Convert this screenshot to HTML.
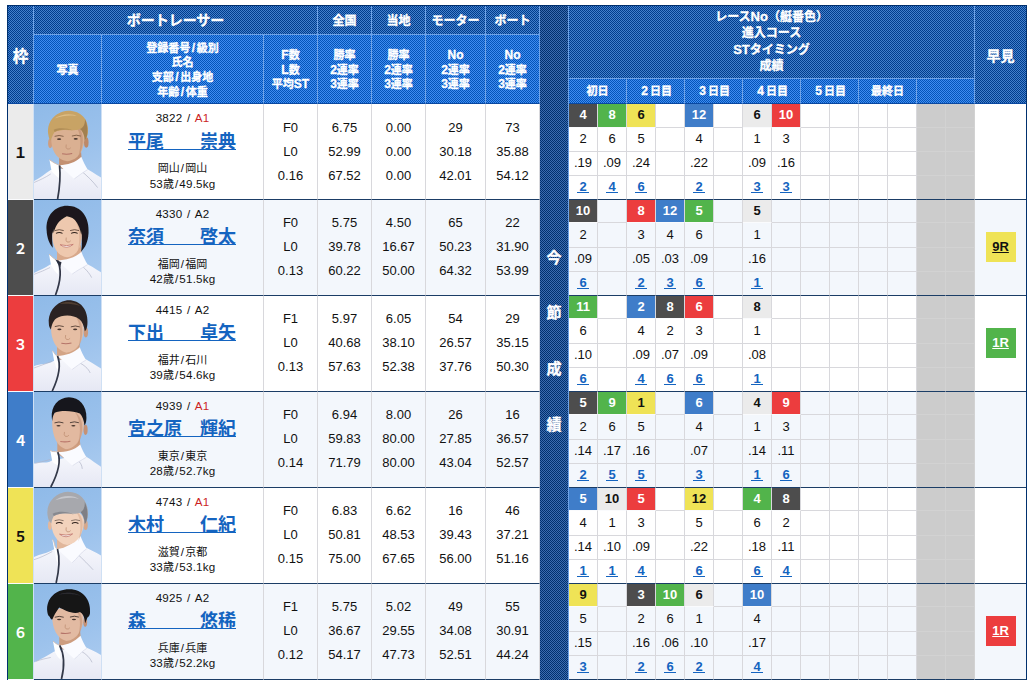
<!DOCTYPE html>
<html lang="ja"><head><meta charset="utf-8"><title>出走表</title>
<style>
html,body{margin:0;padding:0;background:#fff}
body{width:1035px;height:687px;overflow:hidden;position:relative;font-family:"Liberation Sans","Noto Sans CJK JP",sans-serif;color:#111}
.jt{white-space:nowrap}
.jb{font-weight:bold}
.f11{font-size:11px}.f12{font-size:12px}.f14{font-size:14px}.f15{font-size:15px}.f155{font-size:15.5px}
th{-webkit-text-stroke:.35px #fff}
a{color:inherit;text-decoration:none}
table.tb{position:absolute;left:7px;top:5px;width:1020px;border-collapse:separate;border-spacing:0;table-layout:fixed;border:1px solid #00306e;border-bottom:0}
th,td{padding:0;margin:0;text-align:center;vertical-align:middle;font-weight:normal;overflow:hidden;box-sizing:border-box}
tr.ha{height:29px} tr.hb{height:44px} tr.hc{height:25px}
tr.r0,tr.r1,tr.r2,tr.r3{height:24px}
td.rc,td.crs,td.st2,td.res,td.rs{height:24px;line-height:21px;vertical-align:top}
th{color:#fff;font-weight:bold;border-right:1px solid #6ea2e6;border-bottom:1px solid #6ea2e6}
th.dk{background:repeating-conic-gradient(#4380cc 0 25%,#003c8c 0 50%) 0 0/2px 2px}
th.lt{background:repeating-conic-gradient(#3f8cf0 0 25%,#0454b8 0 50%) 0 0/2px 2px;border-bottom-color:#0a48a0;font-size:12px;line-height:14.65px;padding-top:2px}
th.kon{background:repeating-conic-gradient(#3c6cb0 0 25%,#00306e 0 50%) 0 0/2px 2px;border-bottom:0;line-height:55.7px;padding-bottom:4px}
th.p1{background-position:1px 0}
th.last{border-right:0;border-bottom-color:#0a48a0}
th.waku-h{border-bottom-color:#0a48a0}
th.h14{font-size:14px}
th.hs{padding-bottom:2px}
th.h12{font-size:13px;line-height:15.5px;padding-bottom:1px}
th.day{font-size:12px;line-height:15px;padding-top:1px}
.fw{display:inline-block;width:11px;text-align:center}
td{border-right:1px solid #d8d8dc;border-bottom:1px solid #d8d8dc;font-size:13px;color:#111}
tr.odd td{background:#fff} tr.even td{background:#f3f7fc}
td[rowspan],tr.r3 td{border-bottom:1px solid #1b3d66}
td.wk{font-size:14px;font-weight:bold;border-right-color:#cfe0f4}
td.ph{border-right-color:#cfe0f4}
td.ph svg{display:block}
td.nm{vertical-align:top;padding-top:6px}
.reg{word-spacing:1.4px;letter-spacing:.2px;font-size:11.6px;line-height:16px;height:16px}
.a1{color:#cc1f1f}
.name{height:23px;line-height:0;margin-top:3px;padding-top:4px;color:#1464c0}
.name .jt{display:inline-block;vertical-align:top;margin-left:-1px;font-size:18px;line-height:18px;font-weight:bold;text-decoration:underline;letter-spacing:0}
.pl{letter-spacing:.2px;font-size:11.6px;line-height:16px;height:16px;margin-top:4px}
.ag{letter-spacing:.2px;font-size:11.6px;line-height:16px;height:16px}
.pl .jt,.ag .jt{letter-spacing:0}
tr.nx .name{margin-top:2px}
tr.nx .pl{margin-top:5px}
tr.nx .ag{margin-top:-1px}
tr.nx td.st{padding-bottom:2px}
td.st{line-height:24px}
td.hy{border-right:0}
td.g,tr.odd td.g,tr.even td.g{background:#ccc;border-color:#d2d2d2}
tr.r3 td.g{border-bottom-color:#1b3d66}
td.rc{font-weight:bold}
tr.nx.r0{height:23px} tr.nx.r0 td.rc{height:23px}
tr.nx.r1{height:25px} tr.nx.r1 td.crs{height:25px;padding-top:1px}
td.c1,td.c2,td.c3,td.c4,td.c5,td.c6{border-bottom-color:#fafbfd}
td.c1,a.c1{background:#ebebeb !important;color:#111}
td.c2,a.c2{background:#4d4d4d !important;color:#fff}
td.c3,a.c3{background:#ec3d3e !important;color:#fff}
td.c4,a.c4{background:#3f7dc9 !important;color:#fff}
td.c5,a.c5{background:#efe356 !important;color:#111}
td.c6,a.c6{background:#52b44b !important;color:#fff}
td.rs a{display:inline-block;width:12px;line-height:11px;font-weight:bold;color:#1464c0;border-bottom:1px solid #1464c0}
td.hy{padding-bottom:1px}
a.bd{display:block;margin:0 auto;width:30px;height:30px;line-height:29px;font-weight:bold;font-size:13px;text-decoration:underline}
.sl{padding:0 1px}
th .sl{padding:0 1.6px}
</style></head>
<body>
<table class="tb"><colgroup><col style="width:26px"><col style="width:68px"><col style="width:162px"><col style="width:54px"><col style="width:54px"><col style="width:54px"><col style="width:60px"><col style="width:54px"><col style="width:29px"><col style="width:29px"><col style="width:29px"><col style="width:29px"><col style="width:29px"><col style="width:29px"><col style="width:29px"><col style="width:29px"><col style="width:29px"><col style="width:29px"><col style="width:29px"><col style="width:29px"><col style="width:29px"><col style="width:29px"><col style="width:29px"><col style="width:51px"></colgroup><tbody>
<tr class="ha"><th rowspan="3" class="dk waku-h"><span class="jt jb f155">枠</span></th><th colspan="3" class="dk h14 hs"><span class="jt jb f14">ボートレーサー</span></th><th class="dk h14 hs"><span class="jt jb f12">全国</span></th><th class="dk h14 hs"><span class="jt jb f12">当地</span></th><th class="dk h14 hs"><span class="jt jb f12">モーター</span></th><th class="dk h14 hs"><span class="jt jb f12">ボート</span></th><th rowspan="27" class="kon"><span class="jt jb f15">今</span><br><span class="jt jb f15">節</span><br><span class="jt jb f15">成</span><br><span class="jt jb f15">績</span></th><th colspan="14" rowspan="2" class="dk h12 rh p1"><span class="jt jb f12">レース</span>No<span class="jt jb f12">（艇番色）</span><br><span class="jt jb f12">進入コース</span><br>ST<span class="jt jb f12">タイミング</span><br><span class="jt jb f12">成績</span></th><th rowspan="3" class="dk h14 last p1"><span class="jt jb f14">早見</span></th></tr>
<tr class="hb"><th rowspan="2" class="lt p1"><span class="jt jb f11">写真</span></th><th rowspan="2" class="lt p1"><span class="jt jb f11">登録番号</span><span class="sl">/</span><span class="jt jb f11">級別</span><br><span class="jt jb f11">氏名</span><br><span class="jt jb f11">支部</span><span class="sl">/</span><span class="jt jb f11">出身地</span><br><span class="jt jb f11">年齢</span><span class="sl">/</span><span class="jt jb f11">体重</span></th><th rowspan="2" class="lt p1">F<span class="jt jb f11">数</span><br>L<span class="jt jb f11">数</span><br><span class="jt jb f11">平均</span>ST</th><th rowspan="2" class="lt p1"><span class="jt jb f11">勝率</span><br>2<span class="jt jb f11">連率</span><br>3<span class="jt jb f11">連率</span></th><th rowspan="2" class="lt p1"><span class="jt jb f11">勝率</span><br>2<span class="jt jb f11">連率</span><br>3<span class="jt jb f11">連率</span></th><th rowspan="2" class="lt p1">No<br>2<span class="jt jb f11">連率</span><br>3<span class="jt jb f11">連率</span></th><th rowspan="2" class="lt p1">No<br>2<span class="jt jb f11">連率</span><br>3<span class="jt jb f11">連率</span></th></tr>
<tr class="hc"><th colspan="2" class="lt day"><span class="jt jb f11">初日</span></th><th colspan="2" class="lt day"><span class="fw">2</span><span class="jt jb f11">日目</span></th><th colspan="2" class="lt day"><span class="fw">3</span><span class="jt jb f11">日目</span></th><th colspan="2" class="lt day"><span class="fw">4</span><span class="jt jb f11">日目</span></th><th colspan="2" class="lt day"><span class="fw">5</span><span class="jt jb f11">日目</span></th><th colspan="2" class="lt day"><span class="jt jb f11">最終日</span></th><th colspan="2" class="lt day"></th></tr>
<tr class="r0 odd n1"><td rowspan="4" class="wk c1"><span class="jt jb f14">１</span></td><td rowspan="4" class="ph"><svg width="67" height="95" viewBox="27 27 451 640" preserveAspectRatio="none" aria-hidden="true"><defs><linearGradient id="pg1" x1="0" y1="0" x2="0.25" y2="1"><stop offset="0" stop-color="#8fbae8"/><stop offset="0.6" stop-color="#9cc2ec"/><stop offset="1" stop-color="#a9caef"/></linearGradient><linearGradient id="pg1j" x1="0" y1="0" x2="0" y2="1"><stop offset="0" stop-color="#f6f7fc"/><stop offset="1" stop-color="#e6e8f4"/></linearGradient><filter id="pg1f" x="-5%" y="-5%" width="110%" height="110%"><feGaussianBlur stdDeviation="3"/></filter></defs><rect x="27" y="27" width="451" height="640" fill="url(#pg1)"/><g filter="url(#pg1f)"><path d="M196,330 L342,330 L350,423 L238,480 L196,448 Z" fill="#c39072"/><path d="M27,667 L27,545 C70,525 101,497 139,472 L356,451 C406,471 440,500 478,522 L478,667 Z" fill="url(#pg1j)"/><path d="M27,556 C65,540 105,522 140,498" stroke="#aeb2c4" stroke-width="4" fill="none"/><path d="M335,470 C385,510 425,550 455,590" stroke="#aeb2c4" stroke-width="4.5" fill="none"/><path d="M198,440 C253,438 306,423 346,383 C358,415 372,443 388,469 C346,495 328,510 298,532 Z" fill="#fafbff"/><path d="M388,469 C346,495 328,510 298,532" stroke="#cfd3e4" stroke-width="4" fill="none"/><path d="M131,402 C149,416 176,432 198,440 L206,536 C180,516 157,494 145,478 Z" fill="#ffffff"/><path d="M131,402 C149,416 176,432 198,440" stroke="#d2bdb2" stroke-width="6" fill="none"/><path d="M199,440 C206,510 202,580 186,667" stroke="#333848" stroke-width="11.5" fill="none"/><ellipse cx="136" cy="292" rx="14" ry="32" fill="#cf9d7e"/><ellipse cx="379" cy="286" rx="15" ry="35" fill="#bd8968"/><path d="M143,250 C140,332 172,402 250,413 C330,406 368,332 366,245 C360,178 300,160 255,160 C200,160 148,183 143,250 Z" fill="#dab092"/><path d="M305,170 C366,192 372,305 322,392 C350,305 345,225 305,170Z" fill="#b98565" opacity=".5"/><path d="M124,236 C108,150 168,80 255,72 C342,70 398,130 390,216 C387,250 378,264 369,272 C366,232 352,206 336,196 C300,216 230,186 166,216 C151,236 146,256 141,274 C130,264 126,252 124,236 Z" fill="#c8a365"/><path d="M336,196 C352,206 366,232 369,272 C392,250 394,180 370,128 C372,160 362,185 336,196Z" fill="#98774a" opacity=".8"/><path d="M165,125 C205,92 285,85 325,112 C285,100 222,104 165,125Z" fill="#e3c48c" opacity=".8"/><path d="M166,216 C200,196 250,196 290,205 C250,190 200,185 160,200Z" fill="#a58350" opacity=".7"/><path d="M166,245 Q196,233 226,245" stroke="#6b4c34" stroke-width="6.5" opacity=".8" fill="none"/><path d="M282,243 Q312,231 342,243" stroke="#6b4c34" stroke-width="6.5" opacity=".8" fill="none"/><ellipse cx="196" cy="264" rx="14" ry="5.5" opacity=".85" fill="#2c1f1a"/><ellipse cx="308" cy="262" rx="14" ry="5.5" opacity=".85" fill="#2c1f1a"/><path d="M244,300 Q238,322 250,330 Q266,334 274,322" stroke="#bd8c70" stroke-width="5" fill="none"/><path d="M216,362 Q250,369 284,360" stroke="#a9625a" stroke-width="7" opacity=".8" fill="none"/></g></svg></td><td rowspan="4" class="nm"><div class="reg">3822 / <span class="a1">A1</span></div><div class="name"><a><span class="jt">平尾　　崇典</span></a></div><div class="pl"><span class="jt f11">岡山</span><span class="sl">/</span><span class="jt f11">岡山</span></div><div class="ag">53<span class="jt f11">歳</span><span class="sl">/</span>49.5kg</div></td><td rowspan="4" class="st">F0<br>L0<br>0.16</td><td rowspan="4" class="st">6.75<br>52.99<br>67.52</td><td rowspan="4" class="st">0.00<br>0.00<br>0.00</td><td rowspan="4" class="st">29<br>30.18<br>42.01</td><td rowspan="4" class="st lb">73<br>35.88<br>54.12</td><td class="rc c2">4</td><td class="rc c6">8</td><td class="rc c5">6</td><td class="rc"></td><td class="rc c4">12</td><td class="rc"></td><td class="rc c1">6</td><td class="rc c3">10</td><td class="rc"></td><td class="rc"></td><td class="rc"></td><td class="rc"></td><td class="rc g"></td><td class="rc g"></td><td rowspan="4" class="hy"></td></tr>
<tr class="r1 odd n1"><td class="crs">2</td><td class="crs">6</td><td class="crs">5</td><td class="crs"></td><td class="crs">4</td><td class="crs"></td><td class="crs">1</td><td class="crs">3</td><td class="crs"></td><td class="crs"></td><td class="crs"></td><td class="crs"></td><td class="crs g"></td><td class="crs g"></td></tr>
<tr class="r2 odd n1"><td class="st2">.19</td><td class="st2">.09</td><td class="st2">.24</td><td class="st2"></td><td class="st2">.22</td><td class="st2"></td><td class="st2">.09</td><td class="st2">.16</td><td class="st2"></td><td class="st2"></td><td class="st2"></td><td class="st2"></td><td class="st2 g"></td><td class="st2 g"></td></tr>
<tr class="r3 odd n1"><td class="rs"><a>2</a></td><td class="rs"><a>4</a></td><td class="rs"><a>6</a></td><td class="res"></td><td class="rs"><a>2</a></td><td class="res"></td><td class="rs"><a>3</a></td><td class="rs"><a>3</a></td><td class="res"></td><td class="res"></td><td class="res"></td><td class="res"></td><td class="res g"></td><td class="res g"></td></tr>
<tr class="r0 even nx"><td rowspan="4" class="wk c2"><span class="jt jb f14">２</span></td><td rowspan="4" class="ph"><svg width="67" height="95" viewBox="27 27 451 640" preserveAspectRatio="none" aria-hidden="true"><defs><linearGradient id="pg2" x1="0" y1="0" x2="0.25" y2="1"><stop offset="0" stop-color="#8fbae8"/><stop offset="0.6" stop-color="#9cc2ec"/><stop offset="1" stop-color="#a9caef"/></linearGradient><linearGradient id="pg2j" x1="0" y1="0" x2="0" y2="1"><stop offset="0" stop-color="#f6f7fc"/><stop offset="1" stop-color="#e6e8f4"/></linearGradient><filter id="pg2f" x="-5%" y="-5%" width="110%" height="110%"><feGaussianBlur stdDeviation="3"/></filter></defs><rect x="27" y="27" width="451" height="640" fill="url(#pg2)"/><g filter="url(#pg2f)"><path d="M182,330 L342,330 L350,416 L224,474 L182,442 Z" fill="#d8a98c"/><path d="M27,667 L27,518 C70,498 98,487 136,462 L356,444 C406,464 440,492 478,514 L478,667 Z" fill="url(#pg2j)"/><path d="M27,528 C65,514 100,500 135,482" stroke="#aeb2c4" stroke-width="4" fill="none"/><path d="M330,455 C375,490 400,520 415,550" stroke="#aeb2c4" stroke-width="4.5" fill="none"/><path d="M184,434 C239,432 306,416 346,376 C358,408 372,436 388,462 C346,488 314,504 284,526 Z" fill="#fafbff"/><path d="M388,462 C346,488 314,504 284,526" stroke="#cfd3e4" stroke-width="4" fill="none"/><path d="M128,392 C146,406 162,426 184,434 L192,530 C166,510 154,484 142,468 Z" fill="#ffffff"/><path d="M128,392 C146,406 162,426 184,434" stroke="#d2bdb2" stroke-width="6" fill="none"/><path d="M185,434 C208,480 212,560 172,667" stroke="#333848" stroke-width="11.5" fill="none"/><path d="M170,428 L212,446 L204,480 Z" fill="#2a2f3e"/><path d="M112,232 C104,130 170,66 250,66 C342,66 402,140 394,250 C391,312 371,348 344,376 C352,330 350,290 341,250 L152,250 C148,290 150,320 154,348 C130,322 115,282 112,232 Z" fill="#1b191b"/><path d="M150,262 C150,342 186,406 250,413 C316,406 351,342 349,256 C346,192 300,142 248,136 C200,160 155,202 150,262Z" fill="#eec8ae"/><path d="M300,160 C350,200 360,300 318,385 C340,300 338,215 300,160Z" fill="#c9957a" opacity=".4"/><path d="M248,100 C215,150 172,190 160,250 C150,215 160,150 200,100 Z" fill="#1b191b"/><path d="M248,100 C290,140 335,190 345,262 C362,200 345,130 300,96 Z" fill="#1b191b"/><path d="M167,233 Q197,221 227,233" stroke="#4a3428" stroke-width="6.5" opacity=".8" fill="none"/><path d="M270,233 Q300,221 330,233" stroke="#4a3428" stroke-width="6.5" opacity=".8" fill="none"/><path d="M175,252 Q197,240 219,252" stroke="#2c1f1a" stroke-width="7" fill="none"/><path d="M277,252 Q299,240 321,252" stroke="#2c1f1a" stroke-width="7" fill="none"/><path d="M244,280 Q238,302 250,310 Q266,314 274,302" stroke="#bd8c70" stroke-width="5" fill="none"/><path d="M203,328 Q247,364 291,326 Q247,342 203,328 Z" fill="#ffffff" stroke="#bd6f66" stroke-width="5"/></g></svg></td><td rowspan="4" class="nm"><div class="reg">4330 / A2</div><div class="name"><a><span class="jt">奈須　　啓太</span></a></div><div class="pl"><span class="jt f11">福岡</span><span class="sl">/</span><span class="jt f11">福岡</span></div><div class="ag">42<span class="jt f11">歳</span><span class="sl">/</span>51.5kg</div></td><td rowspan="4" class="st">F0<br>L0<br>0.13</td><td rowspan="4" class="st">5.75<br>39.78<br>60.22</td><td rowspan="4" class="st">4.50<br>16.67<br>50.00</td><td rowspan="4" class="st">65<br>50.23<br>64.32</td><td rowspan="4" class="st lb">22<br>31.90<br>53.99</td><td class="rc c2">10</td><td class="rc"></td><td class="rc c3">8</td><td class="rc c4">12</td><td class="rc c6">5</td><td class="rc"></td><td class="rc c1">5</td><td class="rc"></td><td class="rc"></td><td class="rc"></td><td class="rc"></td><td class="rc"></td><td class="rc g"></td><td class="rc g"></td><td rowspan="4" class="hy"><a class="bd c5">9R</a></td></tr>
<tr class="r1 even nx"><td class="crs">2</td><td class="crs"></td><td class="crs">3</td><td class="crs">4</td><td class="crs">6</td><td class="crs"></td><td class="crs">1</td><td class="crs"></td><td class="crs"></td><td class="crs"></td><td class="crs"></td><td class="crs"></td><td class="crs g"></td><td class="crs g"></td></tr>
<tr class="r2 even nx"><td class="st2">.09</td><td class="st2"></td><td class="st2">.05</td><td class="st2">.03</td><td class="st2">.09</td><td class="st2"></td><td class="st2">.16</td><td class="st2"></td><td class="st2"></td><td class="st2"></td><td class="st2"></td><td class="st2"></td><td class="st2 g"></td><td class="st2 g"></td></tr>
<tr class="r3 even nx"><td class="rs"><a>6</a></td><td class="res"></td><td class="rs"><a>2</a></td><td class="rs"><a>3</a></td><td class="rs"><a>6</a></td><td class="res"></td><td class="rs"><a>1</a></td><td class="res"></td><td class="res"></td><td class="res"></td><td class="res"></td><td class="res"></td><td class="res g"></td><td class="res g"></td></tr>
<tr class="r0 odd nx"><td rowspan="4" class="wk c3"><span class="jt jb f14">３</span></td><td rowspan="4" class="ph"><svg width="67" height="95" viewBox="27 27 451 640" preserveAspectRatio="none" aria-hidden="true"><defs><linearGradient id="pg3" x1="0" y1="0" x2="0.25" y2="1"><stop offset="0" stop-color="#8fbae8"/><stop offset="0.6" stop-color="#9cc2ec"/><stop offset="1" stop-color="#a9caef"/></linearGradient><linearGradient id="pg3j" x1="0" y1="0" x2="0" y2="1"><stop offset="0" stop-color="#f6f7fc"/><stop offset="1" stop-color="#e6e8f4"/></linearGradient><filter id="pg3f" x="-5%" y="-5%" width="110%" height="110%"><feGaussianBlur stdDeviation="3"/></filter></defs><rect x="27" y="27" width="451" height="640" fill="url(#pg3)"/><g filter="url(#pg3f)"><path d="M182,330 L331,330 L339,412 L224,470 L182,438 Z" fill="#d3a486"/><path d="M27,667 L27,500 C70,480 120,490 158,465 L345,440 C395,460 440,494 478,516 L478,667 Z" fill="url(#pg3j)"/><path d="M27,512 C65,498 110,482 150,466" stroke="#aeb2c4" stroke-width="4" fill="none"/><path d="M320,470 C365,492 392,515 405,545" stroke="#aeb2c4" stroke-width="4.5" fill="none"/><path d="M184,430 C239,428 295,412 335,372 C347,404 361,432 377,458 C335,484 314,500 284,522 Z" fill="#fafbff"/><path d="M377,458 C335,484 314,500 284,522" stroke="#cfd3e4" stroke-width="4" fill="none"/><path d="M150,395 C168,409 162,422 184,430 L192,526 C166,506 176,487 164,471 Z" fill="#ffffff"/><path d="M150,395 C168,409 162,422 184,430" stroke="#d2bdb2" stroke-width="6" fill="none"/><path d="M185,430 C206,480 200,560 150,667" stroke="#333848" stroke-width="11.5" fill="none"/><ellipse cx="376" cy="272" rx="15" ry="34" fill="#cb9a7c"/><path d="M142,240 C140,322 176,396 246,409 C322,401 363,322 361,240 C356,170 300,132 250,132 C195,138 145,175 142,240Z" fill="#e6bea4"/><path d="M300,150 C362,190 368,300 322,388 C348,300 344,215 300,150Z" fill="#bd8a6c" opacity=".45"/><path d="M127,216 C118,150 160,72 250,56 C332,50 388,110 387,200 C387,236 380,256 369,264 C363,225 352,200 332,184 C291,150 216,152 176,178 C153,196 145,230 141,252 C132,242 128,232 127,216Z" fill="#2b2321"/><path d="M200,80 C240,62 300,62 340,95 C300,80 245,78 200,80Z" fill="#5a4538" opacity=".8"/><path d="M167,233 Q197,221 227,233" stroke="#3c2a22" stroke-width="6.5" opacity=".8" fill="none"/><path d="M275,235 Q305,223 335,235" stroke="#3c2a22" stroke-width="6.5" opacity=".8" fill="none"/><ellipse cx="198" cy="252" rx="14" ry="5.5" opacity=".85" fill="#2c1f1a"/><ellipse cx="304" cy="252" rx="14" ry="5.5" opacity=".85" fill="#2c1f1a"/><path d="M240,290 Q234,312 246,320 Q262,324 270,312" stroke="#bd8c70" stroke-width="5" fill="none"/><path d="M211,346 Q245,353 279,344" stroke="#a9625a" stroke-width="7" opacity=".8" fill="none"/></g></svg></td><td rowspan="4" class="nm"><div class="reg">4415 / A2</div><div class="name"><a><span class="jt">下出　　卓矢</span></a></div><div class="pl"><span class="jt f11">福井</span><span class="sl">/</span><span class="jt f11">石川</span></div><div class="ag">39<span class="jt f11">歳</span><span class="sl">/</span>54.6kg</div></td><td rowspan="4" class="st">F1<br>L0<br>0.13</td><td rowspan="4" class="st">5.97<br>40.68<br>57.63</td><td rowspan="4" class="st">6.05<br>38.10<br>52.38</td><td rowspan="4" class="st">54<br>26.57<br>37.76</td><td rowspan="4" class="st lb">29<br>35.15<br>50.30</td><td class="rc c6">11</td><td class="rc"></td><td class="rc c4">2</td><td class="rc c2">8</td><td class="rc c3">6</td><td class="rc"></td><td class="rc c1">8</td><td class="rc"></td><td class="rc"></td><td class="rc"></td><td class="rc"></td><td class="rc"></td><td class="rc g"></td><td class="rc g"></td><td rowspan="4" class="hy"><a class="bd c6">1R</a></td></tr>
<tr class="r1 odd nx"><td class="crs">6</td><td class="crs"></td><td class="crs">4</td><td class="crs">2</td><td class="crs">3</td><td class="crs"></td><td class="crs">1</td><td class="crs"></td><td class="crs"></td><td class="crs"></td><td class="crs"></td><td class="crs"></td><td class="crs g"></td><td class="crs g"></td></tr>
<tr class="r2 odd nx"><td class="st2">.10</td><td class="st2"></td><td class="st2">.09</td><td class="st2">.07</td><td class="st2">.09</td><td class="st2"></td><td class="st2">.08</td><td class="st2"></td><td class="st2"></td><td class="st2"></td><td class="st2"></td><td class="st2"></td><td class="st2 g"></td><td class="st2 g"></td></tr>
<tr class="r3 odd nx"><td class="rs"><a>6</a></td><td class="res"></td><td class="rs"><a>4</a></td><td class="rs"><a>6</a></td><td class="rs"><a>6</a></td><td class="res"></td><td class="rs"><a>1</a></td><td class="res"></td><td class="res"></td><td class="res"></td><td class="res"></td><td class="res"></td><td class="res g"></td><td class="res g"></td></tr>
<tr class="r0 even nx"><td rowspan="4" class="wk c4"><span class="jt jb f14">４</span></td><td rowspan="4" class="ph"><svg width="67" height="95" viewBox="27 27 451 640" preserveAspectRatio="none" aria-hidden="true"><defs><linearGradient id="pg4" x1="0" y1="0" x2="0.25" y2="1"><stop offset="0" stop-color="#8fbae8"/><stop offset="0.6" stop-color="#9cc2ec"/><stop offset="1" stop-color="#a9caef"/></linearGradient><linearGradient id="pg4j" x1="0" y1="0" x2="0" y2="1"><stop offset="0" stop-color="#f6f7fc"/><stop offset="1" stop-color="#e6e8f4"/></linearGradient><filter id="pg4f" x="-5%" y="-5%" width="110%" height="110%"><feGaussianBlur stdDeviation="3"/></filter></defs><rect x="27" y="27" width="451" height="640" fill="url(#pg4)"/><g filter="url(#pg4f)"><path d="M184,330 L334,330 L342,420 L226,472 L184,440 Z" fill="#cf9e80"/><path d="M27,667 L27,510 C70,490 106,515 144,490 L348,448 C398,468 440,508 478,530 L478,667 Z" fill="url(#pg4j)"/><path d="M35,508 C70,498 105,492 135,482" stroke="#aeb2c4" stroke-width="4" fill="none"/><path d="M318,485 C340,500 350,520 352,545" stroke="#aeb2c4" stroke-width="4.5" fill="none"/><path d="M186,432 C241,430 298,420 338,380 C350,412 364,440 380,466 C338,492 316,502 286,524 Z" fill="#fafbff"/><path d="M380,466 C338,492 316,502 286,524" stroke="#cfd3e4" stroke-width="4" fill="none"/><path d="M136,420 C154,434 164,424 186,432 L194,528 C168,508 162,512 150,496 Z" fill="#ffffff"/><path d="M136,420 C154,434 164,424 186,432" stroke="#d2bdb2" stroke-width="6" fill="none"/><path d="M187,432 C206,480 196,560 140,667" stroke="#333848" stroke-width="11.5" fill="none"/><ellipse cx="374" cy="282" rx="14" ry="34" fill="#c69275"/><path d="M150,216 C146,302 172,392 242,413 C312,406 359,332 363,236 C359,170 330,135 262,130 C200,130 155,150 150,216Z" fill="#e2b9a0"/><path d="M305,165 C365,200 366,310 318,392 C345,305 344,225 305,165Z" fill="#b98668" opacity=".45"/><path d="M147,202 C140,120 190,64 262,62 C332,62 382,120 380,200 C380,226 374,242 367,252 C363,216 353,190 336,172 C291,150 200,150 166,166 C153,186 151,206 150,224Z" fill="#18181b"/><path d="M165,235 Q195,223 225,235" stroke="#2c2220" stroke-width="6.5" opacity=".8" fill="none"/><path d="M269,234 Q299,222 329,234" stroke="#2c2220" stroke-width="6.5" opacity=".8" fill="none"/><ellipse cx="192" cy="254" rx="14" ry="5.5" opacity=".85" fill="#2c1f1a"/><ellipse cx="292" cy="254" rx="14" ry="5.5" opacity=".85" fill="#2c1f1a"/><path d="M232,296 Q226,318 238,326 Q254,330 262,318" stroke="#bd8c70" stroke-width="5" fill="none"/><path d="M204,360 Q238,367 272,358" stroke="#b0665e" stroke-width="7" opacity=".8" fill="none"/></g></svg></td><td rowspan="4" class="nm"><div class="reg">4939 / <span class="a1">A1</span></div><div class="name"><a><span class="jt">宮之原　輝紀</span></a></div><div class="pl"><span class="jt f11">東京</span><span class="sl">/</span><span class="jt f11">東京</span></div><div class="ag">28<span class="jt f11">歳</span><span class="sl">/</span>52.7kg</div></td><td rowspan="4" class="st">F0<br>L0<br>0.14</td><td rowspan="4" class="st">6.94<br>59.83<br>71.79</td><td rowspan="4" class="st">8.00<br>80.00<br>80.00</td><td rowspan="4" class="st">26<br>27.85<br>43.04</td><td rowspan="4" class="st lb">16<br>36.57<br>52.57</td><td class="rc c2">5</td><td class="rc c6">9</td><td class="rc c5">1</td><td class="rc"></td><td class="rc c4">6</td><td class="rc"></td><td class="rc c1">4</td><td class="rc c3">9</td><td class="rc"></td><td class="rc"></td><td class="rc"></td><td class="rc"></td><td class="rc g"></td><td class="rc g"></td><td rowspan="4" class="hy"></td></tr>
<tr class="r1 even nx"><td class="crs">2</td><td class="crs">6</td><td class="crs">5</td><td class="crs"></td><td class="crs">4</td><td class="crs"></td><td class="crs">1</td><td class="crs">3</td><td class="crs"></td><td class="crs"></td><td class="crs"></td><td class="crs"></td><td class="crs g"></td><td class="crs g"></td></tr>
<tr class="r2 even nx"><td class="st2">.14</td><td class="st2">.17</td><td class="st2">.16</td><td class="st2"></td><td class="st2">.07</td><td class="st2"></td><td class="st2">.14</td><td class="st2">.11</td><td class="st2"></td><td class="st2"></td><td class="st2"></td><td class="st2"></td><td class="st2 g"></td><td class="st2 g"></td></tr>
<tr class="r3 even nx"><td class="rs"><a>2</a></td><td class="rs"><a>5</a></td><td class="rs"><a>5</a></td><td class="res"></td><td class="rs"><a>3</a></td><td class="res"></td><td class="rs"><a>1</a></td><td class="rs"><a>6</a></td><td class="res"></td><td class="res"></td><td class="res"></td><td class="res"></td><td class="res g"></td><td class="res g"></td></tr>
<tr class="r0 odd nx"><td rowspan="4" class="wk c5"><span class="jt jb f14">５</span></td><td rowspan="4" class="ph"><svg width="67" height="95" viewBox="27 27 451 640" preserveAspectRatio="none" aria-hidden="true"><defs><linearGradient id="pg5" x1="0" y1="0" x2="0.25" y2="1"><stop offset="0" stop-color="#8fbae8"/><stop offset="0.6" stop-color="#9cc2ec"/><stop offset="1" stop-color="#a9caef"/></linearGradient><linearGradient id="pg5j" x1="0" y1="0" x2="0" y2="1"><stop offset="0" stop-color="#f6f7fc"/><stop offset="1" stop-color="#e6e8f4"/></linearGradient><filter id="pg5f" x="-5%" y="-5%" width="110%" height="110%"><feGaussianBlur stdDeviation="3"/></filter></defs><rect x="27" y="27" width="451" height="640" fill="url(#pg5)"/><g filter="url(#pg5f)"><path d="M182,330 L336,330 L344,390 L224,478 L182,446 Z" fill="#e0b69b"/><path d="M27,667 L27,492 C70,472 120,467 158,442 L350,418 C400,438 440,460 478,482 L478,667 Z" fill="url(#pg5j)"/><path d="M27,510 C65,498 110,478 150,455" stroke="#aeb2c4" stroke-width="4" fill="none"/><path d="M318,470 C360,510 395,545 425,578" stroke="#aeb2c4" stroke-width="4.5" fill="none"/><path d="M184,438 C239,436 300,390 340,350 C352,382 366,410 382,436 C340,462 314,508 284,530 Z" fill="#fafbff"/><path d="M382,436 C340,462 314,508 284,530" stroke="#cfd3e4" stroke-width="4" fill="none"/><path d="M150,372 C168,386 162,430 184,438 L192,534 C166,514 176,464 164,448 Z" fill="#ffffff"/><path d="M150,372 C168,386 162,430 184,438" stroke="#d2bdb2" stroke-width="6" fill="none"/><path d="M185,438 C200,490 196,580 176,667" stroke="#333848" stroke-width="11.5" fill="none"/><ellipse cx="134" cy="280" rx="13" ry="30" fill="#e3b89d"/><ellipse cx="374" cy="276" rx="15" ry="34" fill="#d6a88c"/><path d="M143,246 C140,322 176,399 250,411 C326,401 363,326 363,246 C356,186 300,176 250,178 C200,180 148,196 143,246Z" fill="#f2d2bc"/><path d="M310,185 C366,210 368,310 324,388 C348,305 345,235 310,185Z" fill="#cf9f83" opacity=".45"/><path d="M119,216 C104,130 170,56 255,52 C342,52 397,120 390,210 C388,240 380,258 369,270 C367,232 356,206 341,190 C300,216 226,180 161,216 C151,232 146,250 143,264 C128,252 121,236 119,216Z" fill="#a7a8ad"/><path d="M170,110 C210,75 290,70 330,100 C290,88 225,90 170,110Z" fill="#c9cacf" opacity=".9"/><path d="M341,190 C356,206 367,232 369,270 C392,245 394,170 368,120 C372,150 362,178 341,190Z" fill="#77787e" opacity=".85"/><path d="M161,216 C200,192 250,192 296,205 C250,186 200,180 152,200Z" fill="#808187" opacity=".8"/><path d="M166,247 Q196,235 226,247" stroke="#6d5a50" stroke-width="6.5" opacity=".8" fill="none"/><path d="M277,247 Q307,235 337,247" stroke="#6d5a50" stroke-width="6.5" opacity=".8" fill="none"/><path d="M175,266 Q197,254 219,266" stroke="#2c1f1a" stroke-width="7" fill="none"/><path d="M282,266 Q304,254 326,266" stroke="#2c1f1a" stroke-width="7" fill="none"/><path d="M244,292 Q238,314 250,322 Q266,326 274,314" stroke="#bd8c70" stroke-width="5" fill="none"/><path d="M199,338 Q243,374 287,336 Q243,352 199,338 Z" fill="#ffffff" stroke="#bd6f66" stroke-width="5"/></g></svg></td><td rowspan="4" class="nm"><div class="reg">4743 / <span class="a1">A1</span></div><div class="name"><a><span class="jt">木村　　仁紀</span></a></div><div class="pl"><span class="jt f11">滋賀</span><span class="sl">/</span><span class="jt f11">京都</span></div><div class="ag">33<span class="jt f11">歳</span><span class="sl">/</span>53.1kg</div></td><td rowspan="4" class="st">F0<br>L0<br>0.15</td><td rowspan="4" class="st">6.83<br>50.81<br>75.00</td><td rowspan="4" class="st">6.62<br>48.53<br>67.65</td><td rowspan="4" class="st">16<br>39.43<br>56.00</td><td rowspan="4" class="st lb">46<br>37.21<br>51.16</td><td class="rc c4">5</td><td class="rc c1">10</td><td class="rc c3">5</td><td class="rc"></td><td class="rc c5">12</td><td class="rc"></td><td class="rc c6">4</td><td class="rc c2">8</td><td class="rc"></td><td class="rc"></td><td class="rc"></td><td class="rc"></td><td class="rc g"></td><td class="rc g"></td><td rowspan="4" class="hy"></td></tr>
<tr class="r1 odd nx"><td class="crs">4</td><td class="crs">1</td><td class="crs">3</td><td class="crs"></td><td class="crs">5</td><td class="crs"></td><td class="crs">6</td><td class="crs">2</td><td class="crs"></td><td class="crs"></td><td class="crs"></td><td class="crs"></td><td class="crs g"></td><td class="crs g"></td></tr>
<tr class="r2 odd nx"><td class="st2">.14</td><td class="st2">.10</td><td class="st2">.09</td><td class="st2"></td><td class="st2">.22</td><td class="st2"></td><td class="st2">.18</td><td class="st2">.11</td><td class="st2"></td><td class="st2"></td><td class="st2"></td><td class="st2"></td><td class="st2 g"></td><td class="st2 g"></td></tr>
<tr class="r3 odd nx"><td class="rs"><a>1</a></td><td class="rs"><a>1</a></td><td class="rs"><a>4</a></td><td class="res"></td><td class="rs"><a>6</a></td><td class="res"></td><td class="rs"><a>6</a></td><td class="rs"><a>4</a></td><td class="res"></td><td class="res"></td><td class="res"></td><td class="res"></td><td class="res g"></td><td class="res g"></td></tr>
<tr class="r0 even nx"><td rowspan="4" class="wk c6"><span class="jt jb f14">６</span></td><td rowspan="4" class="ph"><svg width="67" height="95" viewBox="27 27 451 640" preserveAspectRatio="none" aria-hidden="true"><defs><linearGradient id="pg6" x1="0" y1="0" x2="0.25" y2="1"><stop offset="0" stop-color="#8fbae8"/><stop offset="0.6" stop-color="#9cc2ec"/><stop offset="1" stop-color="#a9caef"/></linearGradient><linearGradient id="pg6j" x1="0" y1="0" x2="0" y2="1"><stop offset="0" stop-color="#f6f7fc"/><stop offset="1" stop-color="#e6e8f4"/></linearGradient><filter id="pg6f" x="-5%" y="-5%" width="110%" height="110%"><feGaussianBlur stdDeviation="3"/></filter></defs><rect x="27" y="27" width="451" height="640" fill="url(#pg6)"/><g filter="url(#pg6f)"><path d="M197,330 L336,330 L344,415 L239,480 L197,448 Z" fill="#cd9d7f"/><path d="M27,667 L27,555 C70,535 125,507 163,482 L350,443 C400,463 440,483 478,505 L478,667 Z" fill="url(#pg6j)"/><path d="M40,548 C75,535 110,528 140,522" stroke="#aeb2c4" stroke-width="4" fill="none"/><path d="M345,480 C380,500 405,525 418,555" stroke="#aeb2c4" stroke-width="4.5" fill="none"/><path d="M199,440 C254,438 300,415 340,375 C352,407 366,435 382,461 C340,487 329,510 299,532 Z" fill="#fafbff"/><path d="M382,461 C340,487 329,510 299,532" stroke="#cfd3e4" stroke-width="4" fill="none"/><path d="M155,412 C173,426 177,432 199,440 L207,536 C181,516 181,504 169,488 Z" fill="#ffffff"/><path d="M155,412 C173,426 177,432 199,440" stroke="#d2bdb2" stroke-width="6" fill="none"/><path d="M200,440 C226,490 236,570 212,667" stroke="#333848" stroke-width="11.5" fill="none"/><ellipse cx="372" cy="285" rx="13" ry="30" fill="#c49174"/><path d="M150,242 C148,322 181,396 246,411 C316,403 359,332 361,252 C356,200 320,190 250,185 C200,188 152,200 150,242Z" fill="#e2baa2"/><path d="M305,195 C362,215 366,312 320,390 C346,310 342,240 305,195Z" fill="#b78567" opacity=".45"/><path d="M117,216 C104,120 180,60 266,62 C352,62 412,130 404,222 C402,236 397,246 387,252 C382,264 377,276 371,292 C369,252 356,226 336,216 C291,236 231,202 196,186 C176,216 161,240 151,264 C141,272 136,252 131,246 C122,240 118,228 117,216Z" fill="#131316"/><path d="M190,100 C230,78 300,78 345,110 C300,92 240,92 190,100Z" fill="#34343a" opacity=".7"/><path d="M167,251 Q197,239 227,251" stroke="#2a1f1c" stroke-width="6.5" opacity=".8" fill="none"/><path d="M269,250 Q299,238 329,250" stroke="#2a1f1c" stroke-width="6.5" opacity=".8" fill="none"/><ellipse cx="196" cy="266" rx="14" ry="5.5" opacity=".85" fill="#2c1f1a"/><ellipse cx="296" cy="266" rx="14" ry="5.5" opacity=".85" fill="#2c1f1a"/><path d="M238,300 Q232,322 244,330 Q260,334 268,322" stroke="#bd8c70" stroke-width="5" fill="none"/><path d="M207,358 Q241,365 275,356" stroke="#a9625a" stroke-width="7" opacity=".8" fill="none"/></g></svg></td><td rowspan="4" class="nm"><div class="reg">4925 / A2</div><div class="name"><a><span class="jt">森　　　悠稀</span></a></div><div class="pl"><span class="jt f11">兵庫</span><span class="sl">/</span><span class="jt f11">兵庫</span></div><div class="ag">33<span class="jt f11">歳</span><span class="sl">/</span>52.2kg</div></td><td rowspan="4" class="st">F1<br>L0<br>0.12</td><td rowspan="4" class="st">5.75<br>36.67<br>54.17</td><td rowspan="4" class="st">5.02<br>29.55<br>47.73</td><td rowspan="4" class="st">49<br>34.08<br>52.51</td><td rowspan="4" class="st lb">55<br>30.91<br>44.24</td><td class="rc c5">9</td><td class="rc"></td><td class="rc c2">3</td><td class="rc c6">10</td><td class="rc c1">6</td><td class="rc"></td><td class="rc c4">10</td><td class="rc"></td><td class="rc"></td><td class="rc"></td><td class="rc"></td><td class="rc"></td><td class="rc g"></td><td class="rc g"></td><td rowspan="4" class="hy"><a class="bd c3">1R</a></td></tr>
<tr class="r1 even nx"><td class="crs">5</td><td class="crs"></td><td class="crs">2</td><td class="crs">6</td><td class="crs">1</td><td class="crs"></td><td class="crs">4</td><td class="crs"></td><td class="crs"></td><td class="crs"></td><td class="crs"></td><td class="crs"></td><td class="crs g"></td><td class="crs g"></td></tr>
<tr class="r2 even nx"><td class="st2">.15</td><td class="st2"></td><td class="st2">.16</td><td class="st2">.06</td><td class="st2">.10</td><td class="st2"></td><td class="st2">.17</td><td class="st2"></td><td class="st2"></td><td class="st2"></td><td class="st2"></td><td class="st2"></td><td class="st2 g"></td><td class="st2 g"></td></tr>
<tr class="r3 even nx"><td class="rs"><a>3</a></td><td class="res"></td><td class="rs"><a>2</a></td><td class="rs"><a>6</a></td><td class="rs"><a>2</a></td><td class="res"></td><td class="rs"><a>4</a></td><td class="res"></td><td class="res"></td><td class="res"></td><td class="res"></td><td class="res"></td><td class="res g"></td><td class="res g"></td></tr>
</tbody></table>
</body></html>
